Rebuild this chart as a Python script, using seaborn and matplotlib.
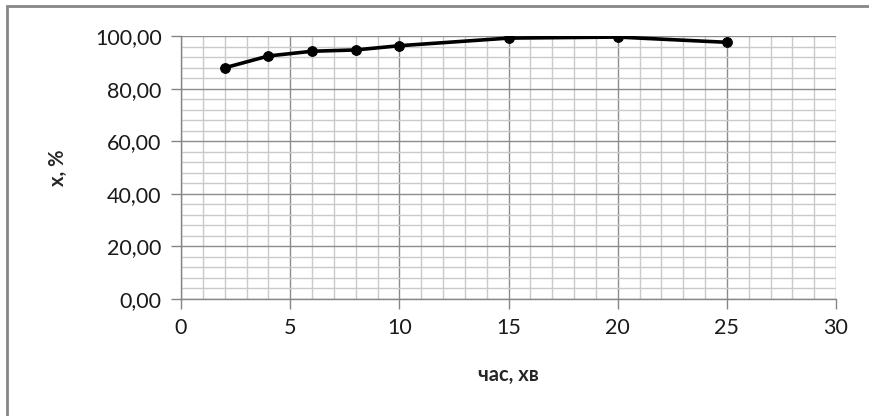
import numpy as np
import pandas as pd
import matplotlib
matplotlib.use("Agg")
import matplotlib.pyplot as plt
from matplotlib.patches import Rectangle
from matplotlib.ticker import MultipleLocator, FuncFormatter
import seaborn as sns

# data
time_min = [2, 4, 6, 8, 10, 15, 20, 25]
conversion = [87.9, 92.4, 94.2, 94.7, 96.3, 99.2, 99.6, 97.6]

x_label = "час, хв"
y_label = "x, %"

sns.set_theme(style="white")
plt.rcParams['font.family'] = ['Lato', 'DejaVu Sans']

df = pd.DataFrame({"t": time_min, "x": conversion})

fig = plt.figure(figsize=(8.69, 4.16), dpi=100)
ax = fig.add_axes([181 / 869, 1 - 299 / 416, (836 - 181) / 869, (299 - 36) / 416])

sns.lineplot(data=df, x="t", y="x", ax=ax, color="black", linewidth=2.6,
             marker="o", markersize=7, markeredgecolor="black", zorder=5)

ax.set_xlim(0, 30)
ax.set_ylim(0, 100)
ax.xaxis.set_major_locator(MultipleLocator(5))
ax.xaxis.set_minor_locator(MultipleLocator(1))
ax.yaxis.set_major_locator(MultipleLocator(20))
ax.yaxis.set_minor_locator(MultipleLocator(4))
ax.yaxis.set_major_formatter(FuncFormatter(lambda v, p: f"{v:.2f}".replace(".", ",")))

ax.grid(which="minor", color="#cacaca", linewidth=1.0)
ax.grid(which="major", color="#8c8c8c", linewidth=1.0)
ax.set_axisbelow(True)

for side in ["top", "right"]:
    ax.spines[side].set_visible(False)
for side in ["left", "bottom"]:
    ax.spines[side].set_color("#868686")
    ax.spines[side].set_linewidth(1.0)

ax.tick_params(which="major", direction="out", length=7, width=1, color="#868686",
               labelsize=15.5, labelcolor="#1a1a1a", pad=7, left=True, bottom=True)
ax.tick_params(which="minor", length=0)

ax.set_xlabel(x_label, fontsize=14.5, fontweight="bold", labelpad=19)
ax.set_ylabel(y_label, fontsize=14.5, fontweight="bold", labelpad=19)

# chart area frame
fig.patches.append(Rectangle((7 / 869, -0.1), 1.1, 1 - 6 / 416 + 0.1,
                             transform=fig.transFigure, fill=False,
                             edgecolor="#868686", linewidth=2))

fig.savefig("out.png", dpi=100)
